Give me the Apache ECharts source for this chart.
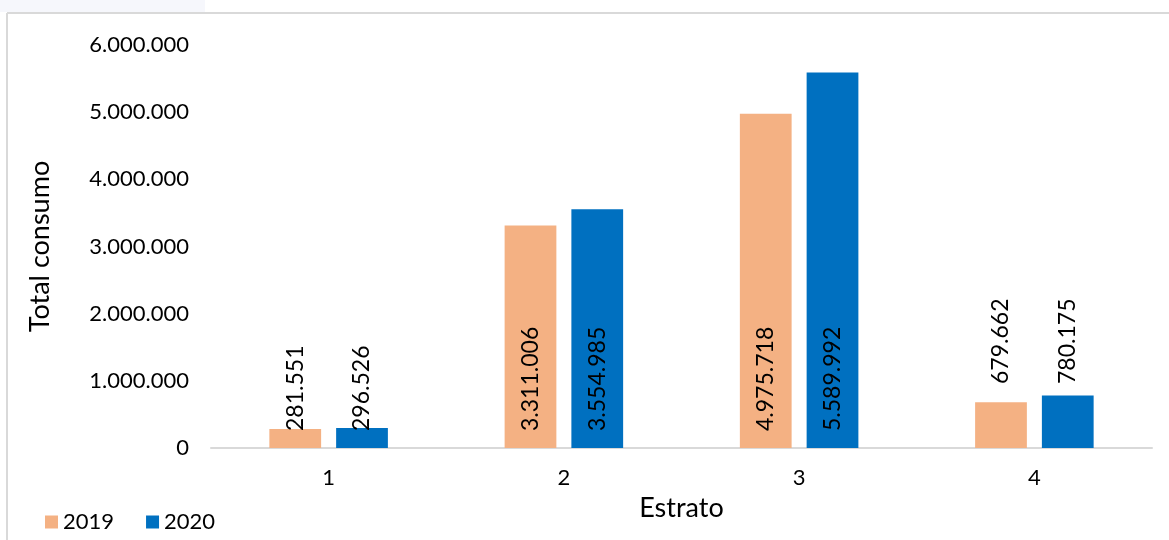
<!DOCTYPE html>
<html>
<head>
<meta charset="utf-8">
<script src="https://cdn.jsdelivr.net/npm/echarts@6/dist/echarts.min.js"></script>
<style>
html,body{margin:0;padding:0;background:#fff;}
#chart{width:1169px;height:540px;}
</style>
</head>
<body>
<div id="chart"></div>
<script>
const categories = ['1', '2', '3', '4'];
const seriesNames = ['2019', '2020'];
const values2019 = [281551, 3311006, 4975718, 679662];
const values2020 = [296526, 3554985, 5589992, 780175];
const colors = ['#F4B183', '#0070C0'];
const FONT = 'Lato';

function fmt(v) {
  return String(Math.round(v)).replace(/\B(?=(\d{3})+(?!\d))/g, '.');
}

function buildData(vals) {
  return vals.map((v, i) => {
    const outside = i === 3;
    return {
      value: v,
      label: {
        position: 'insideBottom',
        distance: outside ? 64 : 17
      }
    };
  });
}

const chart = echarts.init(document.getElementById('chart'));
const labelBase = {
  show: true,
  rotate: 90,
  align: 'left',
  verticalAlign: 'middle',
  color: '#000',
  fontFamily: FONT,
  fontSize: 23,
  formatter: p => fmt(p.value)
};

chart.setOption({
  animation: false,
  backgroundColor: '#fff',
  textStyle: { fontFamily: FONT },
  graphic: [
    { type: 'rect', shape: { x: 0, y: 0, width: 205, height: 12 }, style: { fill: '#f6f7fc' }, silent: true },
    { type: 'line', shape: { x1: 7, y1: 13, x2: 1169, y2: 13 }, style: { stroke: '#d9d9d9', lineWidth: 2 }, silent: true },
    { type: 'line', shape: { x1: 7, y1: 13, x2: 7, y2: 540 }, style: { stroke: '#d9d9d9', lineWidth: 2 }, silent: true }
  ],
  grid: { left: 211, right: 17, top: 45, bottom: 92, containLabel: false },
  legend: {
    left: 40,
    top: 506,
    itemWidth: 13,
    itemHeight: 13,
    itemGap: 32,
    icon: 'rect',
    textStyle: { fontFamily: FONT, fontSize: 22, color: '#000' },
    data: seriesNames
  },
  xAxis: {
    type: 'category',
    data: categories,
    name: 'Estrato',
    nameLocation: 'middle',
    nameGap: 47,
    nameTextStyle: { fontFamily: FONT, fontSize: 27, color: '#000' },
    axisLine: { lineStyle: { color: '#d9d9d9', width: 2 } },
    axisTick: { show: false },
    axisLabel: { fontFamily: FONT, fontSize: 22, color: '#000', margin: 19 }
  },
  yAxis: {
    type: 'value',
    min: 0,
    max: 6000000,
    interval: 1000000,
    name: 'Total consumo',
    nameLocation: 'middle',
    nameGap: 157,
    nameRotate: 90,
    nameTextStyle: { fontFamily: FONT, fontSize: 27, color: '#000' },
    splitLine: { show: false },
    axisLine: { show: false },
    axisTick: { show: false },
    axisLabel: { fontFamily: FONT, fontSize: 22, color: '#000', margin: 22, formatter: v => fmt(v) }
  },
  series: [
    {
      name: seriesNames[0], type: 'bar', data: buildData(values2019),
      itemStyle: { color: colors[0] }, barWidth: '22%', barGap: '29%',
      label: labelBase
    },
    {
      name: seriesNames[1], type: 'bar', data: buildData(values2020),
      itemStyle: { color: colors[1] }, barWidth: '22%', barGap: '29%',
      label: labelBase
    }
  ]
});
</script>
</body>
</html>
